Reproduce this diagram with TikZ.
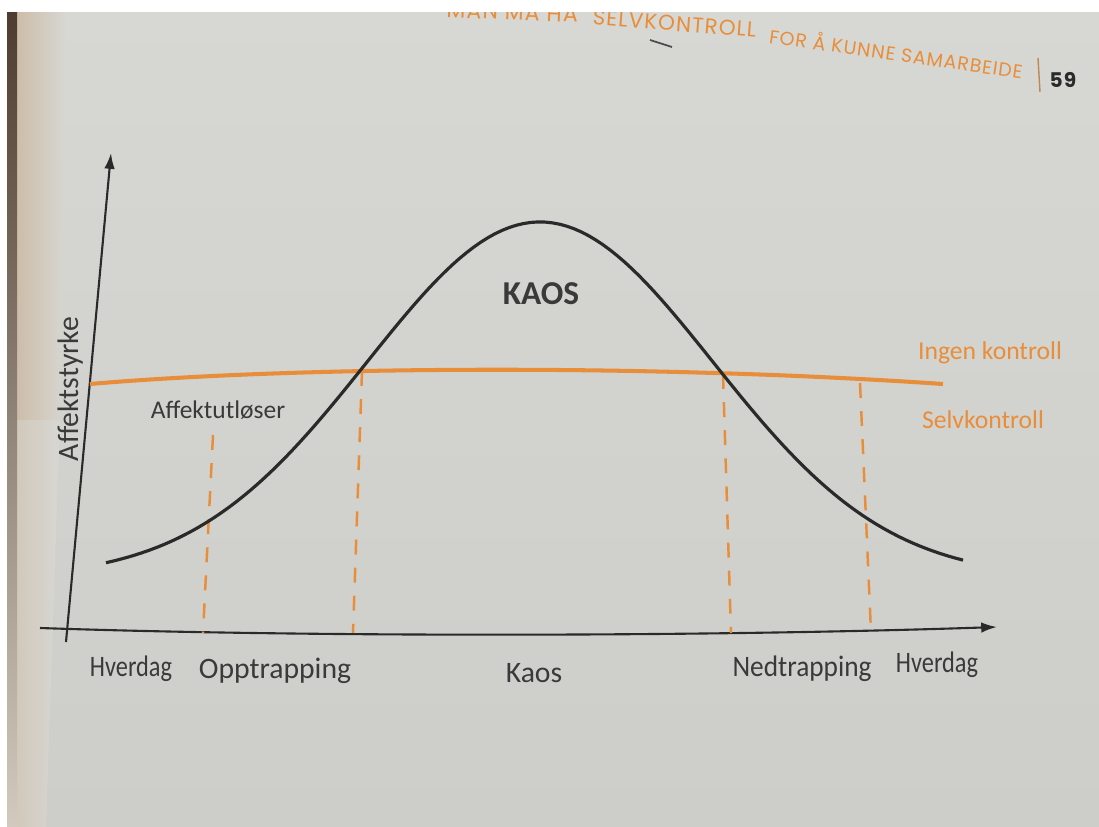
\documentclass[tikz,border=0pt]{standalone}
\usepackage{fontspec}
\setmainfont{Carlito}
\newfontfamily\narrowfont[FakeStretch=0.82]{Carlito}
\newfontfamily\semifont[FakeStretch=0.92]{Carlito}
\newfontfamily\headfont[LetterSpace=5]{Poppins}
\usetikzlibrary{arrows.meta}

\definecolor{page}{HTML}{D7D7D3}
\definecolor{pagelow}{HTML}{CDCDC9}
\definecolor{ink}{HTML}{2A2A2A}
\definecolor{txt}{HTML}{3A3A3A}
\definecolor{accent}{HTML}{E88E3A}
\definecolor{gutter}{HTML}{4E3C30}
\definecolor{tan}{HTML}{CDBDA9}

\tikzset{every picture/.style={line width=0.75pt}}
\tikzset{
  axis/.style={draw=ink, line width=1.2pt, -{Latex[length=9pt,width=6pt]}},
  bell/.style={draw=ink, line width=1.8pt},
  level/.style={draw=accent, line width=2.3pt},
  phase/.style={draw=accent, line width=1.4pt, dash pattern=on 8.5pt off 7.5pt},
  lbl/.style={text=txt, inner sep=0pt, font=\fontsize{16.9}{20}\selectfont},
  orangelbl/.style={text=accent, inner sep=0pt, font=\fontsize{14.6}{18}\selectfont},
  head/.style={text=accent, inner sep=0pt, anchor=base}
}

\begin{document}
\begin{tikzpicture}[x=0.02cm, y=-0.02cm, domain=106:963]
    \useasboundingbox (0,0) rectangle (1099,827);
    % paper and the gutter of the facing page
    \shade[top color=page, bottom color=pagelow] (0,0) rectangle (1099,827);
    \shade[left color=tan, right color=page] (17,12) -- (66,12) -- (60,420) -- (17,420) -- cycle;
    \shade[left color=tan!55!page, right color=page] (17,420) -- (60,420) -- (46,827) -- (17,827) -- cycle;
    \shade[top color=gutter, bottom color=tan!50!page] (7,12) rectangle (17,827);

    % running head
    \node[head, rotate=-2, font=\headfont\fontsize{12.5}{14}\selectfont] (headA) at (512,20) {MAN MÅ HA};
    \node[head, rotate=-4.5, font=\headfont\fontsize{12.2}{14}\selectfont] (headB) at (674,31) {SELVKONTROLL};
    \node[head, rotate=-8, font=\headfont\fontsize{10.8}{13}\selectfont] (headC) at (895,61) {FOR Å KUNNE SAMARBEIDE};
    \draw[gray!60!black, line width=1pt] (650,40) -- (672,47);
    \draw[accent!60!gray, line width=0.8pt] (1038,58) -- (1040,92);
    \node[text=ink, font=\headfont\bfseries\fontsize{11.5}{13}\selectfont] (pageno) at (1063,80) {59};

    % axes
    \coordinate (xstart) at (40,628);
    \coordinate (xend) at (997,627);
    \coordinate (ystart) at (66,642);
    \coordinate (yend) at (111,153);
    \draw[axis] (xstart) .. controls (300,637) and (700,637) .. (xend);
    \draw[axis] (ystart) -- (yend);
    \node[lbl, rotate=90] (strength) at (71,389) {Affektstyrke};

    % control level and phase borders
    \draw[level] (90,384) .. controls (300,366) and (650,364) .. (943,384);
    \foreach \xa/\ya/\xb/\yb in {213/435/203/633, 362/371/353/633, 723/374/731/633, 860/383/871/632}
        \draw[phase] (\xa,\ya) -- (\xb,\yb);

    % affect curve
    \draw[bell] plot[samples=120] (\x, {578-356*exp(-0.5*((\x-540)/173)*((\x-540)/173))});

    \node[lbl, font=\fontsize{14.5}{17}\selectfont] (trigger) at (218,410) {Affektutløser};
    \node[lbl, font=\bfseries\fontsize{19}{22}\selectfont] (chaos) at (541,294) {KAOS};
    \node[orangelbl] (nocontrol) at (990,353) {Ingen kontroll};
    \node[orangelbl] (selfcontrol) at (983,420) {Selvkontroll};

    % phases along the time axis
    \node[lbl, anchor=base] (dayA) at (131,676) {\narrowfont Hverdag};
    \node[lbl, anchor=base] (upstep) at (275,678) {Opptrapping};
    \node[lbl, anchor=base] (chaosphase) at (534,682) {Kaos};
    \node[lbl, anchor=base] (downstep) at (802,676) {\semifont Nedtrapping};
    \node[lbl, anchor=base] (dayB) at (937,672) {\narrowfont Hverdag};

    % white photo margins
    \fill[white] (0,0) rectangle (1099,12);
    \fill[white] (0,0) rectangle (7,827);
\end{tikzpicture}
\end{document}
